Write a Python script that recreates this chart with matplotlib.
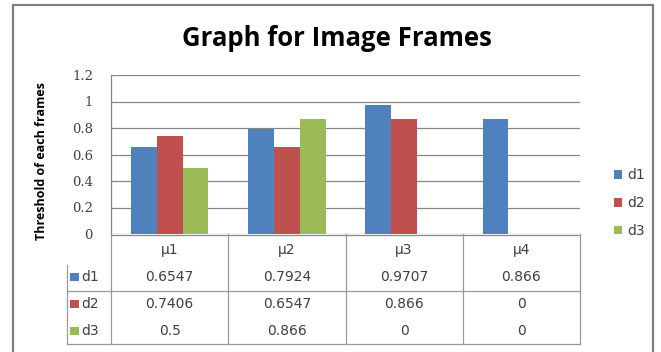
import numpy as np
import matplotlib
matplotlib.use('Agg')
import matplotlib.pyplot as plt
import matplotlib.patches as patches
from matplotlib.lines import Line2D

categories = ['\u03bc1', '\u03bc2', '\u03bc3', '\u03bc4']
series_names = ['d1', 'd2', 'd3']
d1 = [0.6547, 0.7924, 0.9707, 0.866]
d2 = [0.7406, 0.6547, 0.866, 0]
d3 = [0.5, 0.866, 0, 0]
colors = ['#4F81BD', '#C0504D', '#9BBB59']

W, H = 661, 352
fig = plt.figure(figsize=(W / 100., H / 100.), dpi=100)
fig.patch.set_facecolor('white')

def fx(x):
    return x / float(W)

def fy(y):
    return 1 - y / float(H)

# outer chart frame
frame = patches.Rectangle((fx(13), fy(362)), fx(653) - fx(13), fy(5) - fy(362),
                          transform=fig.transFigure, facecolor='none',
                          edgecolor='#808080', linewidth=1.6, clip_on=False)
fig.add_artist(frame)

fig.text(fx(337), fy(38), 'Graph for Image Frames', ha='center', va='center',
         fontsize=18.5, fontweight='bold', family='Open Sans', color='black')

# bar axes
ax = fig.add_axes([fx(111), fy(234), fx(580) - fx(111), fy(75) - fy(234)])
x = np.arange(len(categories))
bw = 0.22
bars = []
for i, vals in enumerate([d1, d2, d3]):
    b = ax.bar(x + (i - 1) * bw, vals, bw, color=colors[i], zorder=3,
               label=series_names[i])
    bars.append(b)
ax.set_xlim(-0.5, 3.5)
ax.set_ylim(0, 1.2)
ax.set_yticks(np.arange(0, 1.21, 0.2))
ax.set_yticklabels(['0', '0.2', '0.4', '0.6', '0.8', '1', '1.2'],
                   family='DejaVu Serif', fontsize=9.5, color='#404040')
ax.set_xticks([])
ax.tick_params(axis='y', length=0, pad=13)
ax.yaxis.grid(True, color='#868686', linewidth=0.9, zorder=0)
for s in ['top', 'right', 'bottom']:
    ax.spines[s].set_visible(False)
ax.spines['left'].set_color('#868686')
ax.spines['left'].set_linewidth(0.9)

fig.text(fx(42), fy(161), 'Threshold of each frames', rotation=90,
         ha='center', va='center', fontsize=9, fontweight='bold',
         family='Open Sans', color='black')

# data table under the bars
tb = fig.add_axes([fx(111), fy(344), fx(580) - fx(111), fy(234) - fy(344)])
tb.set_xlim(-0.5, 3.5)
tb.set_ylim(344, 234)
tb.axis('off')
lc = '#9a9a9a'
key_left = -0.5 - 44 / 117.25
tb.add_line(Line2D([-0.5, 3.5], [234.5, 234.5], color='#868686', lw=0.9, clip_on=False))
for xv in np.arange(-0.5, 3.6, 1.0):
    tb.add_line(Line2D([xv, xv], [234, 344], color=lc, lw=0.9, clip_on=False))
tb.add_line(Line2D([key_left, key_left], [265, 344], color=lc, lw=0.9, clip_on=False))
for yv in [291, 344]:
    tb.add_line(Line2D([key_left, 3.5], [yv, yv], color=lc, lw=0.9, clip_on=False))

tfont = dict(family='DejaVu Sans', fontsize=10, color='#404040', ha='center', va='center')
for j, c in enumerate(categories):
    tb.text(j, 250, c, **tfont)
row_y = [277, 304, 331]
for i, vals in enumerate([d1, d2, d3]):
    sq = patches.Rectangle((key_left + 3 / 117.25, row_y[i] + 4), 9 / 117.25, -8,
                           facecolor=colors[i], edgecolor='none', clip_on=False)
    tb.add_patch(sq)
    tb.text(key_left + 14 / 117.25, row_y[i], series_names[i], family='DejaVu Sans',
            fontsize=10, color='#404040', ha='left', va='center')
    for j, v in enumerate(vals):
        tb.text(j, row_y[i], '%g' % v, **tfont)

# legend on the right
leg = fig.legend(handles=bars, labels=series_names, loc='center left',
                 bbox_to_anchor=(fx(601), fy(203)), frameon=False,
                 handlelength=0.6, handleheight=0.6, handletextpad=0.4,
                 labelspacing=1.0, prop={'family': 'DejaVu Sans', 'size': 10})
for t in leg.get_texts():
    t.set_color('#404040')

plt.savefig('out.png', dpi=100)
plt.close('all')
